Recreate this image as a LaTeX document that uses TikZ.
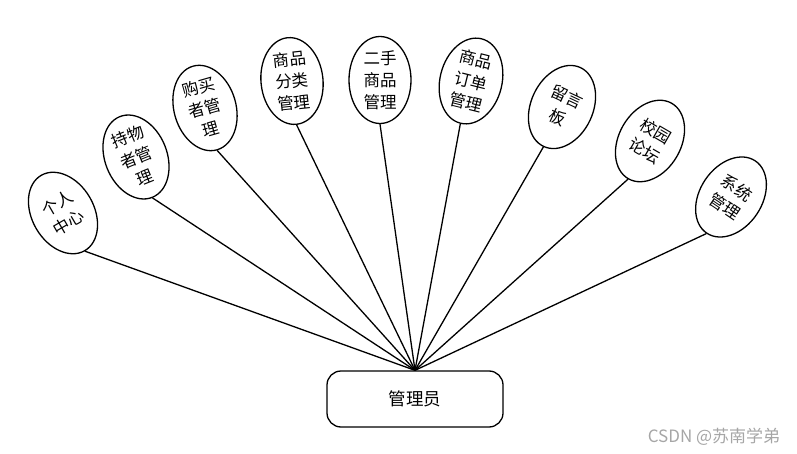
\documentclass[tikz,border=0pt]{standalone}
\usepackage{fontspec}
\newfontfamily\cjk{Noto Sans CJK SC}
\usepackage{tikz}
\usetikzlibrary{shapes.geometric, positioning}
\tikzset{
  topic/.style={ellipse,draw=black,line width=1.3pt,fill=white,
    minimum width=62pt,minimum height=87pt,inner sep=0pt,align=center,
    font=\cjk\fontsize{16.5}{22}\selectfont},
  role/.style={rectangle,rounded corners=14pt,draw=black,line width=1.3pt,
    fill=white,minimum width=176pt,minimum height=56pt,
    font=\cjk\fontsize{17.5}{20}\selectfont},
  link/.style={line width=1.3pt,draw=black},
  wmtext/.style={text=gray!70,font=\cjk\fontsize{17}{19}\selectfont}
}
\begin{document}
\begin{tikzpicture}[x=1pt,y=-1pt]
  \useasboundingbox (0,0) rectangle (797,454);
  \node[role] (admin) at (415,399) {管理员};

  \node[topic, rotate=30]  (me)    at (63,213)  {个人\\中心};
  \node[topic, rotate=22]  (owner) at (136,157) {持物\\者管\\理};
  \node[topic, rotate=16]  (buyer) at (205,108) {购买\\者管\\理};
  \node[topic, rotate=6]   (cat)   at (292,81)  {商品\\分类\\管理};
  \node[topic]             (goods) at (380,80)  {二手\\商品\\管理};
  \node[topic, rotate=-14] (order) at (471,81)  {商品\\订单\\管理};
  \node[topic, rotate=-25] (msg)   at (562,107) {留言\\板};
  \node[topic, rotate=-30] (forum) at (650,141) {校园\\论坛};
  \node[topic, rotate=-34] (sys)   at (731,197) {系统\\管理};

  \draw[link] (admin.north) -- (me.south);
  \draw[link] (admin.north) -- (owner.south);
  \draw[link] (admin.north) -- (buyer.south);
  \draw[link] (admin.north) -- (cat.south);
  \draw[link] (admin.north) -- (goods.south);
  \draw[link] (admin.north) -- (order.south);
  \draw[link] (admin.north) -- (msg.south);
  \draw[link] (admin.north) -- (forum.south);
  \draw[link] (admin.north) -- (sys.south);

  \node[wmtext] (wm) at (714,437) {CSDN @苏南学弟};
\end{tikzpicture}
\end{document}
